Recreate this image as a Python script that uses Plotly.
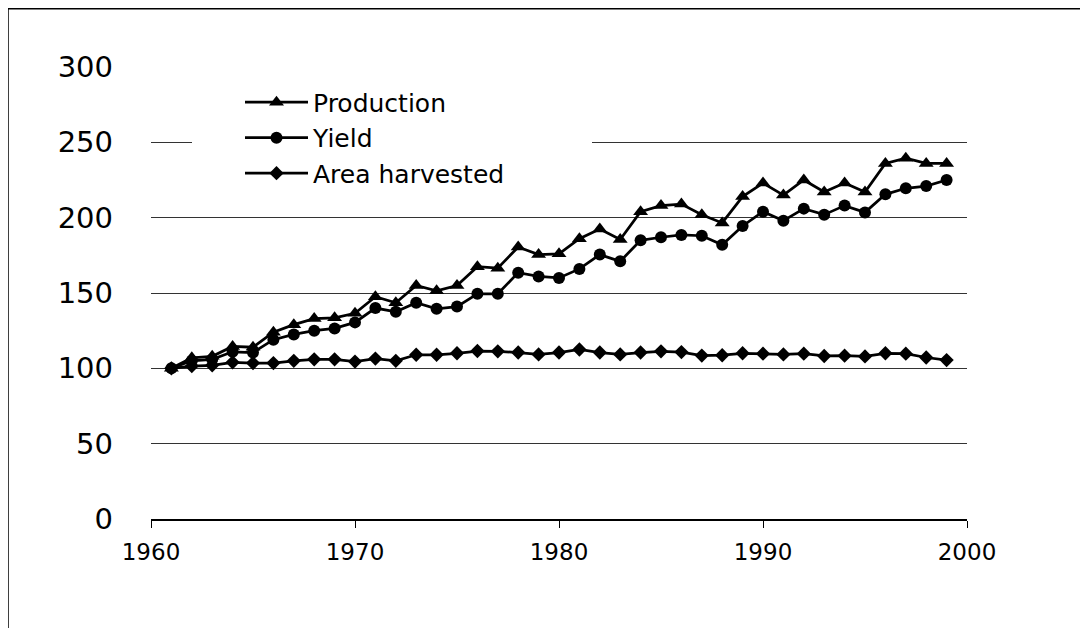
import plotly.graph_objects as go

years = list(range(1961, 2000))

production = [100, 107, 108, 114.5, 114, 124, 129, 133, 133.5, 136.5,
              147.5, 143.5, 155, 151.5, 155, 167.5, 166.5, 180.5, 175.5, 176,
              186, 192.5, 185.5, 204, 208, 209, 202, 196.5, 214, 223,
              215, 225, 217, 223, 217, 236, 239.5, 236, 236]

yield_ = [100, 105, 106, 111, 110.5, 119, 122.5, 125, 126.5, 130.5,
          140, 137.5, 143.5, 139.5, 141, 149.5, 149.5, 163.5, 161, 160,
          166, 175.5, 171, 185, 187, 188.5, 188, 182, 194.5, 204,
          198, 206, 202, 208, 203.5, 215.5, 219.5, 221, 225]

area = [100, 101.5, 102, 104, 103.5, 103.5, 105, 106, 106, 104.5,
        106.5, 105, 109, 109, 110, 111.5, 111.3, 110.5, 109.2, 110.5,
        112.5, 110.5, 109.2, 110.5, 111.3, 110.8, 108.5, 108.7, 110, 109.7,
        109.2, 109.7, 108.2, 108.4, 107.9, 110, 109.7, 107.2, 105.5]

series = [
    ("Production", production, "triangle-up", 13),
    ("Yield", yield_, "circle", 12),
    ("Area harvested", area, "diamond", 11),
]

x_ticks = [1960, 1970, 1980, 1990, 2000]
y_ticks = [0, 50, 100, 150, 200, 250, 300]

fig = go.Figure()
for i, (name, vals, sym, size) in enumerate(series):
    fig.add_trace(go.Scatter(
        x=years, y=vals, name=name, mode="lines+markers",
        line=dict(color="black", width=2.75),
        marker=dict(symbol=sym, size=size, color="black"),
    ))

# screen-pixel geometry of the plot area (page has an 8px body offset)
OFF = 8
SL, SR, ST, SB = 151, 967, 66.5, 519.5
pw, ph = SR - SL, SB - ST
L, T = SL - OFF, ST - OFF
R = 1088 - (SR - OFF)
B = 628 - (SB - OFF)

def px_x(p):
    return (p - SL) / pw

def px_y(p):
    return (SB - p) / ph

# outer frame
fig.add_shape(type="rect", xref="paper", yref="paper",
              x0=px_x(8), x1=px_x(1110), y0=px_y(650), y1=px_y(8),
              line=dict(color="black", width=1.5), fillcolor="rgba(0,0,0,0)",
              layer="below")
# legend background covering gridline
fig.add_shape(type="rect", xref="paper", yref="paper",
              x0=px_x(192), x1=px_x(592), y0=px_y(195), y1=px_y(80),
              line=dict(width=0), fillcolor="white", layer="above")

fig.update_layout(
    width=1088, height=628,
    margin=dict(l=L, r=R, t=T, b=B, pad=0),
    paper_bgcolor="white", plot_bgcolor="white",
    font=dict(family="DejaVu Sans", color="black"),
    showlegend=True,
    legend=dict(
        x=px_x(240), y=px_y(79), xanchor="left", yanchor="top",
        bgcolor="rgba(0,0,0,0)", borderwidth=0,
        font=dict(size=25, family="DejaVu Sans", color="black"),
        itemwidth=63, tracegroupgap=0,
    ),
    xaxis=dict(
        range=[1960, 2000], tickvals=x_ticks, ticktext=[str(v) for v in x_ticks],
        showgrid=False, zeroline=False, showline=True, linecolor="black", linewidth=1.5,
        ticks="outside", ticklen=7, tickcolor="black", tickwidth=1,
        tickfont=dict(size=23, family="DejaVu Sans", color="black"),
        ticklabelstandoff=5,
    ),
    yaxis=dict(
        range=[0, 300], tickvals=y_ticks, ticktext=[str(v) for v in y_ticks],
        showgrid=True, gridcolor="#333333", gridwidth=1,
        zeroline=False, showline=False, ticks="",
        tickfont=dict(size=29, family="DejaVu Sans", color="black"),
        ticklabelstandoff=37,
    ),
)

fig.write_html("out.html")
